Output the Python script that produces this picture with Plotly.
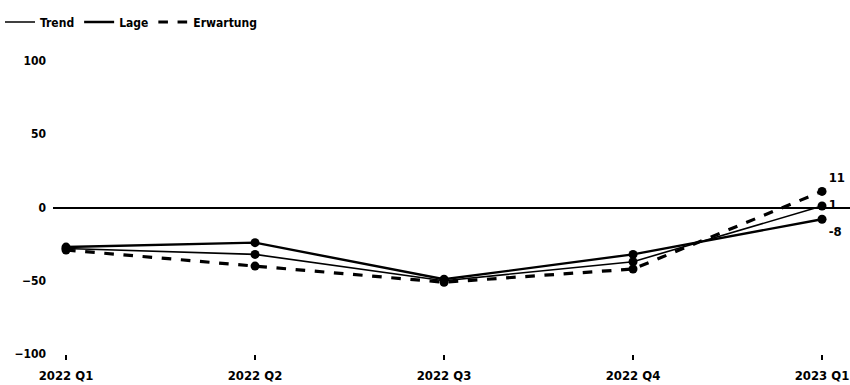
import plotly.graph_objects as go

quarters = ["2022 Q1", "2022 Q2", "2022 Q3", "2022 Q4", "2023 Q1"]
trend = [-28, -32, -50, -37, 1]
lage = [-27, -24, -49, -32, -8]
erwartung = [-29, -40, -51, -42, 11]
y_ticks = [-100, -50, 0, 50, 100]

FONT = "DejaVu Sans Condensed, Liberation Sans Narrow, Roboto, sans-serif"

series = [
    ("Trend", trend, 1.6, "solid", "middle right"),
    ("Lage", lage, 2.4, "solid", "bottom right"),
    ("Erwartung", erwartung, 3.2, "dash", "top right"),
]

fig = go.Figure()
for name, vals, w, dash, tpos in series:
    texts = [""] * (len(vals) - 1) + [str(vals[-1])]
    fig.add_trace(go.Scatter(
        x=quarters, y=vals, mode="lines+markers+text", name=name,
        line=dict(color="black", width=w, dash=dash),
        marker=dict(color="black", size=9),
        text=texts, textposition=tpos,
        textfont=dict(family=FONT, size=13, color="black", weight="bold"),
        showlegend=False, cliponaxis=False,
    ))
    fig.add_trace(go.Scatter(
        x=[None], y=[None], mode="lines", name=name,
        line=dict(color="black", width=w, dash=dash),
        showlegend=True,
    ))

fig.update_layout(
    width=850, height=385,
    margin=dict(l=53, r=0, t=61, b=31, autoexpand=False),
    paper_bgcolor="white", plot_bgcolor="white",
    font=dict(family=FONT, size=12, color="black", weight="bold"),
    legend=dict(orientation="h", xref="container", x=0.0, xanchor="left",
                yref="container", y=1 - 22 / 385, yanchor="middle",
                font=dict(family=FONT, size=12, color="black", weight="bold"),
                itemwidth=30, tracegroupgap=0, bgcolor="rgba(0,0,0,0)"),
    xaxis=dict(type="category", range=[-0.069, 4.148], showgrid=False, zeroline=False,
               showline=False, ticks="outside", ticklen=5, tickcolor="black", tickwidth=1.5,
               ticklabelstandoff=4,
               tickfont=dict(family=FONT, size=13, color="black", weight="bold")),
    yaxis=dict(range=[-100, 100], tickvals=y_ticks, showgrid=False, zeroline=True,
               zerolinecolor="black", zerolinewidth=1.5, showline=False, ticks="",
               ticklabelstandoff=6,
               tickfont=dict(family=FONT, size=12, color="black", weight="bold")),
)

fig.write_html("out.html")
